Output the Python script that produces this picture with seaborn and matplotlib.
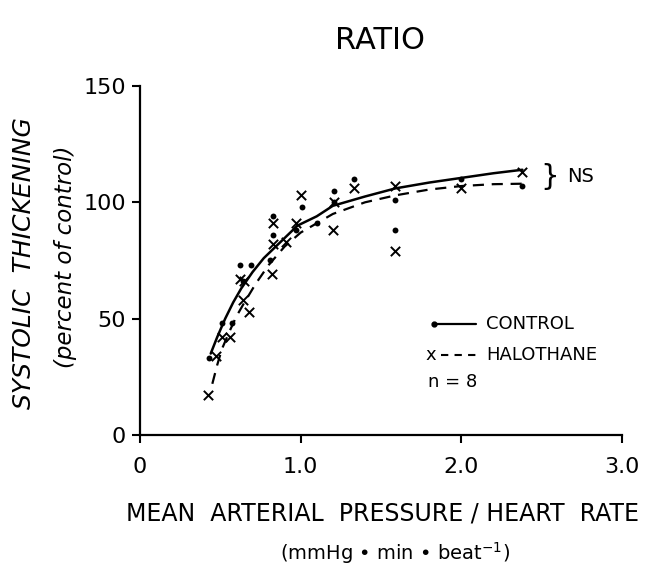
import matplotlib
matplotlib.use("Agg")
import matplotlib.pyplot as plt
import seaborn as sns
import pandas as pd

# Individual points
ctrl_x = [0.43, 0.51, 0.57, 0.62, 0.69, 0.64, 0.81, 0.83, 0.83, 0.97, 1.01, 1.10,
          1.21, 1.21, 1.33, 1.59, 1.59, 2.00, 2.38]
ctrl_y = [33, 48, 48, 73, 73, 66, 75, 94, 86, 88, 98, 91,
          105, 100, 110, 101, 88, 110, 107]

halo_x = [0.42, 0.47, 0.51, 0.56, 0.62, 0.65, 0.64, 0.68, 0.82, 0.83, 0.83, 0.91,
          0.97, 1.00, 1.20, 1.21, 1.33, 1.59, 1.59, 2.00, 2.38]
halo_y = [17, 34, 42, 42, 67, 66, 58, 53, 69, 82, 91, 83,
          91, 103, 88, 100, 106, 107, 79, 106, 113]

# Fitted curves
ctrl_fit_x = [0.44, 0.48, 0.53, 0.58, 0.63, 0.70, 0.77, 0.86, 0.98, 1.10, 1.20,
              1.40, 1.59, 1.80, 2.00, 2.20, 2.38]
ctrl_fit_y = [35, 42, 50, 57, 63, 70, 76, 82, 90, 94, 98.5,
              102.5, 106, 108.5, 110.5, 112.5, 114]
halo_fit_x = [0.45, 0.48, 0.51, 0.56, 0.60, 0.65, 0.72, 0.80, 0.90, 1.00, 1.10,
              1.20, 1.40, 1.59, 1.80, 2.00, 2.20, 2.38]
halo_fit_y = [22, 30, 37, 45, 51, 57, 65, 73, 81, 87, 91,
              95, 100, 103, 105.5, 107, 107.8, 108]

x_ticks = [0, 1, 2, 3]
x_tick_labels = ["0", "1.0", "2.0", "3.0"]
y_ticks = [0, 50, 100, 150]

ctrl = pd.DataFrame({"x": ctrl_x, "y": ctrl_y})
halo = pd.DataFrame({"x": halo_x, "y": halo_y})
ctrl_fit = pd.DataFrame({"x": ctrl_fit_x, "y": ctrl_fit_y})
halo_fit = pd.DataFrame({"x": halo_fit_x, "y": halo_fit_y})

sns.set_style("ticks")
plt.rcParams["font.family"] = ["DejaVu Sans"]

fig = plt.figure(figsize=(6.51, 5.65), dpi=100)
ax = fig.add_axes([0.2151, 0.2301, 0.7404, 0.6177])

sns.lineplot(x="x", y="y", data=ctrl_fit, ax=ax, color="black", lw=1.8,
             estimator=None, sort=False)
sns.lineplot(x="x", y="y", data=halo_fit, ax=ax, color="black", lw=1.6,
             estimator=None, sort=False, linestyle=(0, (5, 3.5)))
sns.scatterplot(x="x", y="y", data=ctrl, ax=ax, color="black", s=18,
                marker="o", edgecolor="black", linewidth=0, zorder=3)
sns.scatterplot(x="x", y="y", data=halo, ax=ax, color="black", s=45,
                marker="x", linewidth=1.4, zorder=3)

ax.set_xlim(0, 3)
ax.set_ylim(0, 150)
ax.set_xticks(x_ticks)
ax.set_xticklabels(x_tick_labels)
ax.set_yticks(y_ticks)
ax.tick_params(axis="both", labelsize=16, length=6, width=1.5, direction="out",
               color="black", labelcolor="black")
ax.tick_params(axis="x", pad=10)
ax.tick_params(axis="y", pad=4)
sns.despine(ax=ax)
for s in ["left", "bottom"]:
    ax.spines[s].set_linewidth(1.6)
    ax.spines[s].set_color("black")
ax.set_xlabel("")
ax.set_ylabel("")

# legend drawn by hand, in axes fraction
tr = ax.transAxes
ax.plot([0.609, 0.697], [0.318, 0.318], color="black", lw=1.6, transform=tr)
ax.plot([0.609], [0.318], marker="o", ms=3.5, color="black", transform=tr)
ax.text(0.718, 0.318, "CONTROL", transform=tr, fontsize=13, va="center",
        color="black")
ax.text(0.604, 0.229, "x", transform=tr, fontsize=13, va="center", ha="center",
        color="black")
ax.plot([0.625, 0.705], [0.229, 0.229], color="black", lw=1.5,
        linestyle=(0, (3.5, 3)), transform=tr)
ax.text(0.718, 0.229, "HALOTHANE", transform=tr, fontsize=13, va="center",
        color="black")
ax.text(0.598, 0.152, "n = 8", transform=tr, fontsize=13, va="center",
        color="black")

# NS brace
ax.text(2.49, 111, "}", fontsize=21, va="center", ha="left", color="black")
ax.text(2.66, 111, "NS", fontsize=14, va="center", ha="left", color="black")

fig.text(0.584, 0.928, "RATIO", fontsize=22, ha="center", va="center",
         color="black")
fig.text(0.037, 0.534, "SYSTOLIC  THICKENING", rotation=90, style="italic",
         fontsize=18, ha="center", va="center", color="black")
fig.text(0.100, 0.545, "(percent of control)", rotation=90, style="italic",
         fontsize=16.5, ha="center", va="center", color="black")
fig.text(0.588, 0.092, "MEAN  ARTERIAL  PRESSURE / HEART  RATE", fontsize=17,
         ha="center", va="center", color="black")
fig.text(0.607, 0.022, r"(mmHg • min • beat$^{-1}$)", fontsize=14,
         ha="center", va="center", color="black")

fig.savefig("out.png", dpi=100)
